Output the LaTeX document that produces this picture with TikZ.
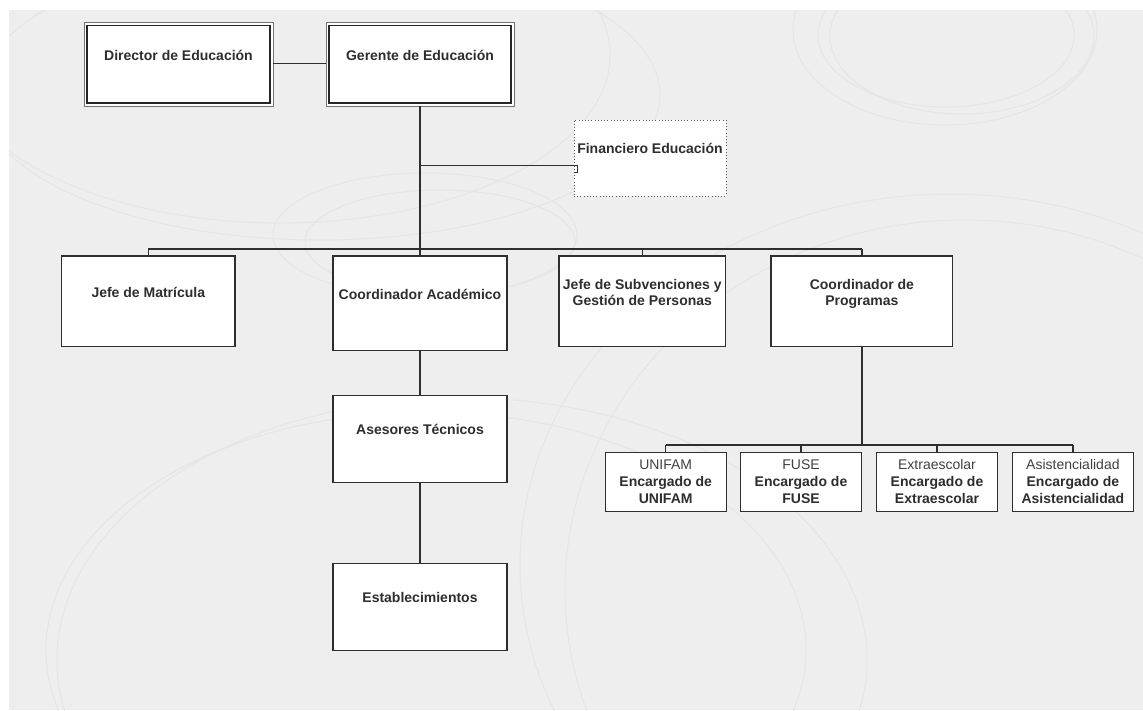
\documentclass[tikz,border=0pt]{standalone}
\usepackage{fontspec}
\setmainfont{Liberation Sans}
\definecolor{bgc}{HTML}{EEEEEE}
\definecolor{bgl}{HTML}{E5E5E5}
\definecolor{ink}{HTML}{2E2E2E}
\tikzset{
  box/.style={draw=ink, line width=1.2pt, fill=white, inner sep=0pt},
  topbox/.style={draw=black!55, line width=0.8pt, fill=white, inner sep=0pt},
  dotbox/.style={draw=black!65, line width=1pt, dash pattern=on 1pt off 2.2pt, fill=white, inner sep=0pt},
  lbl/.style={font=\bfseries\fontsize{14}{16.8}\selectfont, inner sep=0pt, anchor=base, text=ink},
  lblr/.style={font=\fontsize{14}{16.8}\selectfont, inner sep=0pt, anchor=base, text=black!75},
  conn/.style={draw=ink, line width=1.3pt},
  trunk/.style={draw=ink, line width=2pt},
  bgline/.style={draw=bgl, line width=1pt}
}
\begin{document}
\begin{tikzpicture}[x=1pt,y=-1pt]
\useasboundingbox (0,0) rectangle (1143,710);
\fill[white] (0,0) rectangle (1143,710);
\fill[bgc] (9,10) rectangle (1143,710);
\begin{scope}
\clip (9,10) rectangle (1143,710);
\draw[bgline] (945,30) ellipse [x radius=152, y radius=95];
\draw[bgline] (962,36) ellipse [x radius=132, y radius=78];
\draw[bgline] (946,35) ellipse [x radius=128, y radius=72];
\draw[bgline] (950,565) ellipse [x radius=430, y radius=371];
\draw[bgline] (965,590) ellipse [x radius=400, y radius=370];
\draw[bgline] (426,650) ellipse [x radius=380, y radius=238];
\draw[bgline] (462,660) ellipse [x radius=405, y radius=262];
\draw[bgline] (280,55) ellipse [x radius=330, y radius=168];
\draw[bgline] (320,95) ellipse [x radius=340, y radius=145];
\draw[bgline] (425,235) ellipse [x radius=152, y radius=62];
\draw[bgline] (440,242) ellipse [x radius=135, y radius=52];
\end{scope}

% top boxes
\node[topbox, minimum width=189pt, minimum height=83.4pt] (dir) at (178.5,64.3) {};
\draw[draw=black!85, line width=1.2pt] ([xshift=3.4pt,yshift=-3.4pt]dir.north west) rectangle ([xshift=-3.4pt,yshift=3.4pt]dir.south east);
\node[topbox, minimum width=188pt, minimum height=83.4pt] (ger) at (420,64.3) {};
\draw[draw=black!85, line width=1.2pt] ([xshift=3.4pt,yshift=-3.4pt]ger.north west) rectangle ([xshift=-3.4pt,yshift=3.4pt]ger.south east);
\node[lbl] (dirt) at (178.5,60) {Director de Educación};
\node[lbl] (gert) at (420,60) {Gerente de Educación};

% financiero
\node[dotbox, minimum width=152pt, minimum height=76pt] (fin) at (650,158) {};
\node[lbl] (fint) at (650,153.3) {Financiero Educación};

% second row
\node[box, minimum width=173.3pt, minimum height=90.7pt] (jm) at (148.3,301.3) {};
\node[box, minimum width=174pt, minimum height=94.7pt] (ca) at (420,303.3) {};
\node[box, minimum width=166.7pt, minimum height=90.7pt] (js) at (642.3,301.3) {};
\node[box, minimum width=181.7pt, minimum height=90.7pt] (cp) at (861.9,301.3) {};
\node[lbl] (jmt) at (148.3,297) {Jefe de Matrícula};
\node[lbl] (cat) at (420,299.3) {Coordinador Académico};
\node[lbl] (jst1) at (642.3,289) {Jefe de Subvenciones y};
\node[lbl] (jst2) at (642.3,305.5) {Gestión de Personas};
\node[lbl] (cpt1) at (861.9,289) {Coordinador de};
\node[lbl] (cpt2) at (861.9,305.5) {Programas};

% left column
\node[box, minimum width=174pt, minimum height=87.6pt] (at) at (420,439) {};
\node[box, minimum width=174pt, minimum height=87.5pt] (est) at (420,607) {};
\node[lbl] (att) at (420,434) {Asesores Técnicos};
\node[lbl] (estt) at (420,602.3) {Establecimientos};

% sub boxes
\node[box, minimum width=121pt, minimum height=59.4pt] (u1) at (665.7,482) {};
\node[box, minimum width=121pt, minimum height=59.4pt] (u2) at (801,482) {};
\node[box, minimum width=121pt, minimum height=59.4pt] (u3) at (937,482) {};
\node[box, minimum width=121pt, minimum height=59.4pt] (u4) at (1072.9,482) {};
\node[lblr] (u1a) at (665.7,469.3) {UNIFAM};
\node[lbl] (u1b) at (665.7,486.5) {Encargado de};
\node[lbl] (u1c) at (665.7,503.5) {UNIFAM};
\node[lblr] (u2a) at (801,469.3) {FUSE};
\node[lbl] (u2b) at (801,486.5) {Encargado de};
\node[lbl] (u2c) at (801,503.5) {FUSE};
\node[lblr] (u3a) at (937,469.3) {Extraescolar};
\node[lbl] (u3b) at (937,486.5) {Encargado de};
\node[lbl] (u3c) at (937,503.5) {Extraescolar};
\node[lblr] (u4a) at (1072.9,469.3) {Asistencialidad};
\node[lbl] (u4b) at (1072.9,486.5) {Encargado de};
\node[lbl] (u4c) at (1072.9,503.5) {Asistencialidad};

% connectors
\draw[conn] (dir.east |- 0,63.3) -- (ger.west |- 0,63.3);
\coordinate (b0) at (420,249);
\coordinate (fj) at (420,165.7);
\draw[trunk] (ger.south) -- (b0);
\draw[conn] (fj) -| ([xshift=4pt,yshift=-14.5pt]fin.west) -- ([yshift=-14.5pt]fin.west);
\draw[conn] (jm.north |- b0) -- (cp.north |- b0);
\draw[conn] (jm.north |- b0) -- (jm.north);
\draw[conn] (b0) -- (ca.north);
\draw[conn] (js.north |- b0) -- (js.north);
\draw[conn] (cp.north |- b0) -- (cp.north);
\draw[conn] (ca.south) -- (at.north);
\draw[conn] (at.south) -- (est.north);
\coordinate (s0) at (861.9,445);
\draw[trunk] (cp.south) -- (s0);
\draw[conn] (u1.north |- s0) -- (u4.north |- s0);
\draw[conn] (u1.north |- s0) -- (u1.north);
\draw[conn] (u2.north |- s0) -- (u2.north);
\draw[conn] (u3.north |- s0) -- (u3.north);
\draw[conn] (u4.north |- s0) -- (u4.north);
\end{tikzpicture}
\end{document}
